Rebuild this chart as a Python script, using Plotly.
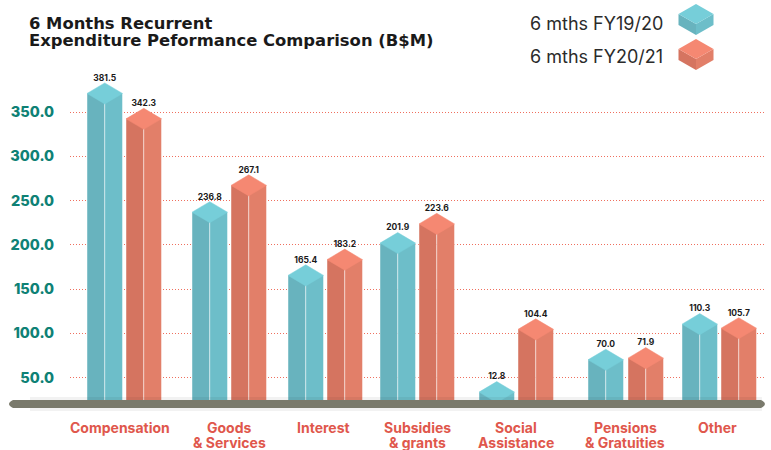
import plotly.graph_objects as go

categories = [['Compensation'], ['Goods', '& Services'], ['Interest'], ['Subsidies', '& grants'],
              ['Social', 'Assistance'], ['Pensions', '& Gratuities'], ['Other']]
fy1920 = [381.5, 236.8, 165.4, 201.9, 12.8, 70.0, 110.3]
fy2021 = [342.3, 267.1, 183.2, 223.6, 104.4, 71.9, 105.7]
y_ticks = [50, 100, 150, 200, 250, 300, 350]

# the groups are not evenly spaced in the original, x axis is in pixels
teal_x = [87, 192, 288, 380, 479, 588, 682]
red_x = [126, 231, 327, 419, 518, 628, 721]
label_x = [120, 229, 323, 418, 516, 625, 717]
W = 35.5
DY = 11.9  # half height of the top diamond, in value units

# original squeezes the tallest bar and keeps the smallest one visible above the ground bar
DRAW_MIN, DRAW_MAX = 33.5, 371

FONT = 'Inter'
TEAL = ['#68B3BE', '#6DBEC9', '#76CED9']
RED = ['#D57460', '#E27F69', '#F58872']

PLOT_L, PLOT_R, PLOT_B = 70, 765, 404


def px(x, y):
    return (x - PLOT_L) / (PLOT_R - PLOT_L), 1 - y / PLOT_B


def poly(points):
    pts = [px(*p) for p in points]
    return 'M ' + ' L '.join(f'{a:.5f},{b:.5f}' for a, b in pts) + ' Z'


fig = go.Figure()


def add_series(xs, vals, cols):
    tops = [min(max(v, DRAW_MIN), DRAW_MAX) for v in vals]
    # two faces as bars, the diamond on top hides their flat ends
    fig.add_trace(go.Bar(x=[a + W / 4 for a in xs], y=tops, width=W / 2,
                         marker=dict(color=cols[0], line=dict(color='rgba(255,255,255,0.45)', width=1)),
                         customdata=vals, hovertemplate='%{customdata}<extra></extra>'))
    fig.add_trace(go.Bar(x=[a + W * 3 / 4 for a in xs], y=tops, width=W / 2,
                         marker=dict(color=cols[1], line=dict(color='rgba(255,255,255,0.45)', width=1)),
                         customdata=vals, hovertemplate='%{customdata}<extra></extra>'))
    dx, dy = [], []
    for a, v in zip(xs, tops):
        dx += [a, a + W / 2, a + W, a + W / 2, a, None]
        dy += [v, v + DY, v, v - DY, v, None]
    fig.add_trace(go.Scatter(x=dx, y=dy, mode='lines', fill='toself', fillcolor=cols[2],
                             line=dict(color=cols[2], width=0.5), hoverinfo='skip'))
    fig.add_trace(go.Scatter(x=[a + W / 2 for a in xs], y=[v + DY for v in tops], mode='text',
                             text=[f'{v:.1f}' for v in vals], textposition='top center',
                             textfont=dict(family=FONT, size=8.5, color='#1a1a1a', weight=700),
                             hoverinfo='skip'))


add_series(teal_x, fy1920, TEAL)
add_series(red_x, fy2021, RED)

shapes = []


def legend_icon(cx, top, cols):
    w, d, h = 17.5, 10, 11
    shapes.append(dict(type='path', xref='paper', yref='paper', line_width=0, fillcolor=cols[0],
                       path=poly([(cx - w, top + d), (cx, top + 2 * d), (cx, top + 2 * d + h), (cx - w, top + d + h)])))
    shapes.append(dict(type='path', xref='paper', yref='paper', line_width=0, fillcolor=cols[1],
                       path=poly([(cx + w, top + d), (cx, top + 2 * d), (cx, top + 2 * d + h), (cx + w, top + d + h)])))
    shapes.append(dict(type='path', xref='paper', yref='paper', line_width=0, fillcolor=cols[2],
                       path=poly([(cx - w, top + d), (cx, top), (cx + w, top + d), (cx, top + 2 * d)])))


legend_icon(696, 4, TEAL)
legend_icon(696, 39, RED)

# soft shadow round the ground bar
shapes.append(dict(type='path', xref='paper', yref='paper', line_width=0, fillcolor='rgba(0,0,0,0.05)',
                   path=poly([(30, 397), (762, 397), (762, 411), (30, 411)])))

# ground bar, it sticks out left of the plot area
x0, y0 = px(9, 400)
x1, y1 = px(765, 408)
r = 4 / (PLOT_R - PLOT_L)
xm0, xm1 = x0 + r, x1 - r
ym = (y0 + y1) / 2
shapes.append(dict(type='path', xref='paper', yref='paper', fillcolor='#7A7A6C', line_width=0,
                   path=f'M {xm0},{y0} L {xm1},{y0} Q {x1 + r},{ym} {xm1},{y1} L {xm0},{y1} Q {x0 - r},{ym} {xm0},{y0} Z'))

annotations = []
for text, y in [('6 Months Recurrent', 23), ('Expenditure Peformance Comparison (B$M)', 41)]:
    a, b = px(27, y)
    annotations.append(dict(text=text, x=a, y=b, xref='paper', yref='paper', xanchor='left', yanchor='middle',
                            showarrow=False, font=dict(family='DejaVu Sans', size=16.4, color='#1a1a1a', weight=700)))
for text, y in [('6 mths FY19/20', 23), ('6 mths FY20/21', 56)]:
    a, b = px(665, y)
    annotations.append(dict(text=text, x=a, y=b, xref='paper', yref='paper', xanchor='right', yanchor='middle',
                            showarrow=False, font=dict(family=FONT, size=18, color='#2b2b2b')))
# category labels line by line, tick labels have too much line spacing here
for cx, lines in zip(label_x, categories):
    for i, line in enumerate(lines):
        a, b = px(cx, 427 + i * 15)
        annotations.append(dict(text=line, x=a, y=b, xref='paper', yref='paper', xanchor='center', yanchor='middle',
                                showarrow=False, font=dict(family=FONT, size=14, color='#E0574C', weight=700)))

fig.update_layout(
    width=771, height=450,
    margin=dict(l=PLOT_L, r=771 - PLOT_R, t=0, b=450 - PLOT_B, autoexpand=False),
    paper_bgcolor='white', plot_bgcolor='white',
    showlegend=False, barmode='overlay', shapes=shapes, annotations=annotations,
    xaxis=dict(range=[PLOT_L, PLOT_R], showticklabels=False,
               showgrid=False, zeroline=False, showline=False, ticks=''),
    yaxis=dict(range=[20.06, 476.6], tickmode='array', tickvals=y_ticks,
               ticktext=[f'{v:.1f}' for v in y_ticks], showgrid=True, griddash='1px,2px',
               gridcolor='#EF6F5E', gridwidth=1, zeroline=False, showline=False,
               ticks='outside', ticklen=12, tickcolor='rgba(0,0,0,0)',
               tickfont=dict(family=FONT, size=14.5, color='#0E8175', weight=800)),
)

fig.write_html('out.html', config={'displayModeBar': False},
               post_script="document.body.style.margin='0';")
